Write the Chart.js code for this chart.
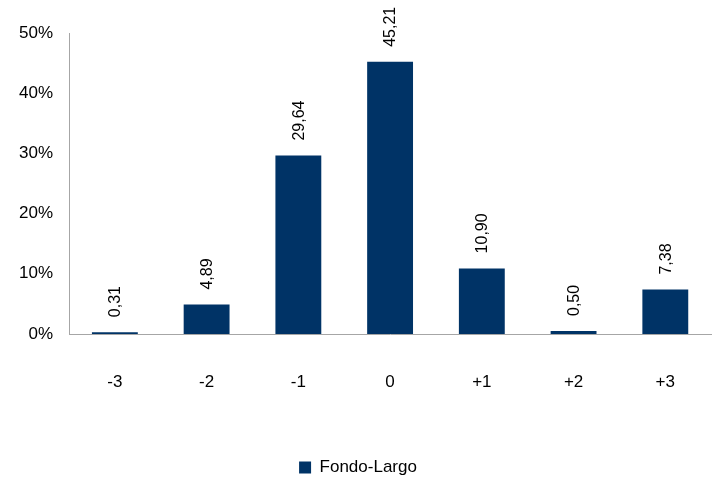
<!DOCTYPE html>
<html>
<head>
<meta charset="utf-8">
<script src="https://cdn.jsdelivr.net/npm/chart.js@4/dist/chart.umd.min.js"></script>
<style>
  html, body { margin: 0; padding: 0; background: #fff; }
  #wrap { width: 713px; height: 477px; }
</style>
</head>
<body>
<div id="wrap"><canvas id="chart"></canvas></div>
<script>
// categories and values
const categories = ['-3', '-2', '-1', '0', '+1', '+2', '+3'];
const fondoLargo = [0.31, 4.89, 29.64, 45.21, 10.90, 0.50, 7.38];
const yTicks     = [0, 10, 20, 30, 40, 50];

const BAR   = '#003366';
const AXIS  = '#a6a6a6';
const FONT  = '"Liberation Sans", Arial, sans-serif';

// ─── rotated value labels above bars ───────────────────────
const valueLabels = {
  id: 'valueLabels',
  afterDatasetsDraw(chart) {
    const { ctx } = chart;
    const meta = chart.getDatasetMeta(0);
    ctx.save();
    ctx.fillStyle = '#000';
    ctx.font = `16px ${FONT}`;
    ctx.textAlign = 'left';
    ctx.textBaseline = 'middle';
    meta.data.forEach((bar, i) => {
      const txt = fondoLargo[i].toFixed(2).replace('.', ',');
      ctx.save();
      ctx.translate(bar.x + 1, bar.y - 15);
      ctx.rotate(-Math.PI / 2);
      ctx.fillText(txt, 0, 0);
      ctx.restore();
    });
    ctx.restore();
  }
};

new Chart(document.getElementById('chart'), {
  type: 'bar',
  data: {
    labels: categories,
    datasets: [{
      label: 'Fondo-Largo',
      data: fondoLargo,
      backgroundColor: BAR,
      borderWidth: 0,
      categoryPercentage: 1,
      barPercentage: 0.5,
    }],
  },
  options: {
    responsive: true,
    maintainAspectRatio: false,
    animation: false,
    layout: { padding: { top: 33, left: 0, right: -3, bottom: -9 } },
    plugins: {
      tooltip: { enabled: false },
      legend: {
        position: 'bottom',
        labels: {
          color: '#000',
          font: { family: FONT, size: 17 },
          boxWidth: 12,
          boxHeight: 12,
          padding: 4,
        },
      },
    },
    scales: {
      x: {
        grid: { display: false, drawTicks: false },
        border: { display: true, color: AXIS, width: 1 },
        ticks: { color: '#000', font: { family: FONT, size: 17 }, padding: 38, maxRotation: 0 },
        afterFit: s => { s.height = 121; },
      },
      y: {
        min: 0,
        max: 50,
        grid: { display: false, drawTicks: false },
        border: { display: true, color: AXIS, width: 1 },
        afterBuildTicks: s => { s.ticks = yTicks.map(v => ({ value: v })); },
        ticks: {
          color: '#000',
          font: { family: FONT, size: 17 },
          padding: 16,
          callback: v => v + '%',
        },
        afterFit: s => { s.width = 69; },
      },
    },
  },
  plugins: [valueLabels],
});
</script>
</body>
</html>
